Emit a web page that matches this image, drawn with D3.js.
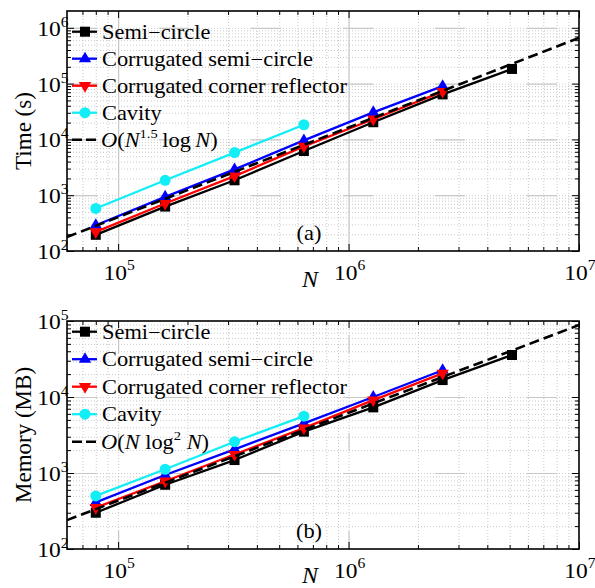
<!DOCTYPE html>
<html><head><meta charset="utf-8">
<script src="https://cdn.jsdelivr.net/npm/d3@7"></script>
<style>
body{margin:0;background:#fff}
svg{display:block}
text{font-family:"Liberation Serif","Times New Roman",serif;fill:#000}
</style>
</head><body>
<svg id="c" width="595" height="588"></svg>
<script>
// ---------------- data ----------------
const N = [8e4, 1.6e5, 3.2e5, 6.4e5, 1.28e6, 2.56e6, 5.12e6];
const seriesNames = ["Semi\u2212circle", "Corrugated semi\u2212circle", "Corrugated corner reflector", "Cavity"];
const seriesColors = ["#000000", "#0000ff", "#ff0000", "#12eef6"];
const seriesMarkers = ["square", "up", "down", "circle"];

const timeSemi       = [195, 625, 1850, 6200, 20300, 64000, 183000];
const timeCorrSemi   = [290, 935, 2900, 9600, 30500, 90000];
const timeCorrCorner = [220, 710, 2200, 7500, 23000, 72000];
const timeCavity     = [578, 1850, 5800, 18300];
const timeRefN = [6e4, 1e7];
const timeRef  = [178, 660000];

const memSemi       = [300, 700, 1480, 3500, 7300, 16700, 35700];
const memCorrSemi   = [410, 940, 2050, 4500, 10000, 22500];
const memCorrCorner = [350, 780, 1750, 3900, 9100, 20500];
const memCavity     = [500, 1120, 2580, 5600];
const memRefN = [6e4, 1e7];
const memRef  = [240, 88500];

const xDomain = [6e4, 1e7];
const xTickExp = [5, 6, 7];
const timeDomain = [1e2, 2e6];
const timeTickExp = [2, 3, 4, 5, 6];
const memDomain = [1e2, 1e5];
const memTickExp = [2, 3, 4, 5];

// ---------------- drawing ----------------
const svg = d3.select("#c");
const L = 67, R = 579;
const SX = 1.12;
const x = d3.scaleLog().domain(xDomain).range([L, R]);

function minorVals(lo, hi) {
  const out = [];
  for (let e = Math.floor(Math.log10(lo)); e <= Math.ceil(Math.log10(hi)); e++)
    for (let k = 2; k <= 9; k++) { const v = k * Math.pow(10, e); if (v > lo * 1.0001 && v < hi * 0.9999) out.push(v); }
  return out;
}
function majorVals(lo, hi) {
  const out = [];
  for (let e = Math.ceil(Math.log10(lo) - 1e-9); e <= Math.floor(Math.log10(hi) + 1e-9); e++) out.push(Math.pow(10, e));
  return out;
}
function markerPath(type) {
  if (type === "square") return "M-5,-5H5V5H-5Z";
  if (type === "up") return "M0,-7L6.2,3.6L-6.2,3.6Z";
  if (type === "down") return "M0,7L6.2,-3.6L-6.2,-3.6Z";
  return d3.symbol(d3.symbolCircle, 95)();
}
function sText(g, tx, ty, anchor, size) {
  return g.append("text")
    .attr("transform", `translate(${tx},${ty}) scale(${SX},1)`)
    .attr("text-anchor", anchor)
    .attr("font-size", size);
}

function drawPanel(cfg) {
  const y = d3.scaleLog().domain(cfg.yDomain).range([cfg.bottom, cfg.top]);
  const g = svg.append("g");
  const H = cfg.bottom - cfg.top, W = R - L;

  // minor grid (dotted)
  const mx = minorVals(...xDomain), my = minorVals(...cfg.yDomain);
  const Mx = majorVals(...xDomain).filter(v => x(v) > L + 1 && x(v) < R - 1);
  const My = majorVals(...cfg.yDomain).filter(v => y(v) > cfg.top + 1 && y(v) < cfg.bottom - 1);
  const grid = g.append("g");
  grid.append("g").attr("transform", `translate(0,${cfg.bottom})`)
    .call(d3.axisBottom(x).tickValues(mx.concat(Mx)).tickSize(-H).tickFormat(""))
    .call(s => { s.select(".domain").remove(); s.selectAll("line").attr("stroke", "#bdbdbd").attr("stroke-width", 0.8).attr("stroke-dasharray", "1,2"); });
  grid.append("g").attr("transform", `translate(${L},0)`)
    .call(d3.axisLeft(y).tickValues(my.concat(My)).tickSize(-W).tickFormat(""))
    .call(s => { s.select(".domain").remove(); s.selectAll("line").attr("stroke", "#bdbdbd").attr("stroke-width", 0.8).attr("stroke-dasharray", "1,2"); });
  // major grid (long dashes)
  grid.append("g").attr("transform", `translate(0,${cfg.bottom})`)
    .call(d3.axisBottom(x).tickValues(Mx).tickSize(-H).tickFormat(""))
    .call(s => { s.select(".domain").remove(); s.selectAll("line").attr("stroke", "#c8c8c8").attr("stroke-width", 1.2).attr("stroke-dasharray", cfg.vDash); });
  grid.append("g").attr("transform", `translate(${L},0)`)
    .call(d3.axisLeft(y).tickValues(My).tickSize(-W).tickFormat(""))
    .call(s => { s.select(".domain").remove(); s.selectAll("line").attr("stroke", "#c8c8c8").attr("stroke-width", 1.2).attr("stroke-dasharray", "30,62"); });

  // data lines
  const line = d3.line().x(d => x(d[0])).y(d => y(d[1]));
  cfg.series.forEach((vals, i) => {
    const pts = vals.map((v, j) => [N[j], v]);
    g.append("path").datum(pts).attr("d", line).attr("fill", "none")
      .attr("stroke", seriesColors[i]).attr("stroke-width", 2.3).attr("stroke-linejoin", "round");
    g.selectAll(null).data(pts).enter().append("path")
      .attr("d", markerPath(seriesMarkers[i]))
      .attr("transform", d => `translate(${x(d[0])},${y(d[1])})`)
      .attr("fill", seriesColors[i]);
  });
  // reference dashed line
  g.append("path").datum(cfg.refN.map((n, j) => [n, cfg.ref[j]])).attr("d", line)
    .attr("fill", "none").attr("stroke", "#000").attr("stroke-width", 2.6).attr("stroke-dasharray", "10,5");

  // ticks (inward) on all four sides
  const tick = (axis, tr, vals, size) => g.append("g").attr("transform", tr)
    .call(axis.tickValues(vals).tickSize(-size).tickFormat(""))
    .call(s => { s.select(".domain").remove(); s.selectAll("line").attr("stroke", "#000").attr("stroke-width", 1); });
  const MxAll = majorVals(...xDomain), MyAll = majorVals(...cfg.yDomain);
  tick(d3.axisBottom(x), `translate(0,${cfg.bottom})`, MxAll, 7);
  tick(d3.axisBottom(x), `translate(0,${cfg.bottom})`, mx, 4);
  tick(d3.axisTop(x), `translate(0,${cfg.top})`, MxAll, 7);
  tick(d3.axisTop(x), `translate(0,${cfg.top})`, mx, 4);
  tick(d3.axisLeft(y), `translate(${L},0)`, MyAll, 7);
  tick(d3.axisLeft(y), `translate(${L},0)`, my, 4);
  tick(d3.axisRight(y), `translate(${R},0)`, MyAll, 7);
  tick(d3.axisRight(y), `translate(${R},0)`, my, 4);

  // frame
  g.append("rect").attr("x", L).attr("y", cfg.top).attr("width", W).attr("height", H)
    .attr("fill", "none").attr("stroke", "#000").attr("stroke-width", 1.6);

  // y tick labels
  cfg.yTickExp.forEach(e => {
    const t = sText(g, 68.5, y(Math.pow(10, e)) + 8, "end", 21);
    t.append("tspan").text("10");
    t.append("tspan").attr("font-size", 14).attr("dy", -9).text(e);
  });
  // x tick labels
  xTickExp.forEach(e => {
    const t = sText(g, x(Math.pow(10, e)) + 1, cfg.bottom + 29, "middle", 21);
    t.append("tspan").text("10");
    t.append("tspan").attr("font-size", 14).attr("dy", -10).text(e);
  });
  // axis labels
  g.append("text").attr("x", 310).attr("y", cfg.nBase).attr("text-anchor", "middle")
    .attr("font-size", 24).attr("font-style", "italic").text("N");
  g.append("text").attr("transform", `translate(31,${(cfg.top + cfg.bottom) / 2}) rotate(-90)`)
    .attr("text-anchor", "middle").attr("font-size", 23).text(cfg.ylabel);
  // panel tag
  sText(g, 309, cfg.bottom - 11, "middle", 20).text(cfg.tag);

  // legend
  seriesNames.forEach((name, i) => {
    const ry = cfg.legTop + cfg.legStep * i;
    g.append("line").attr("x1", 72).attr("x2", 97).attr("y1", ry).attr("y2", ry)
      .attr("stroke", seriesColors[i]).attr("stroke-width", 2.3);
    g.append("path").attr("d", markerPath(seriesMarkers[i])).attr("transform", `translate(85,${ry})`).attr("fill", seriesColors[i]);
    sText(g, 102, ry + 7, "start", 20).text(name);
  });
  const ry = cfg.legTop + cfg.legStep * 4;
  g.append("line").attr("x1", 72).attr("x2", 97).attr("y1", ry).attr("y2", ry)
    .attr("stroke", "#000").attr("stroke-width", 2.6).attr("stroke-dasharray", "10,4");
  cfg.refLabel(sText(g, 101, ry + 7, "start", 20));
}

drawPanel({
  yDomain: timeDomain, top: 11, bottom: 251, yTickExp: timeTickExp,
  series: [timeSemi, timeCorrSemi, timeCorrCorner, timeCavity],
  refN: timeRefN, ref: timeRef, ylabel: "Time (s)", tag: "(a)",
  legTop: 31.7, legStep: 27, vDash: "none", nBase: 287,
  refLabel: t => {
    t.append("tspan").attr("font-style", "italic").text("O");
    t.append("tspan").text("(");
    t.append("tspan").attr("font-style", "italic").text("N");
    t.append("tspan").attr("font-size", 13).attr("dy", -9).text("1.5");
    t.append("tspan").attr("dy", 9).text("\u2009log\u2009");
    t.append("tspan").attr("font-style", "italic").text("N");
    t.append("tspan").text(")");
  }
});
drawPanel({
  yDomain: memDomain, top: 321, bottom: 549, yTickExp: memTickExp,
  series: [memSemi, memCorrSemi, memCorrCorner, memCavity],
  refN: memRefN, ref: memRef, ylabel: "Memory (MB)", tag: "(b)",
  legTop: 331.7, legStep: 27.5, vDash: "18,80", nBase: 583,
  refLabel: t => {
    t.append("tspan").attr("font-style", "italic").text("O");
    t.append("tspan").text("(");
    t.append("tspan").attr("font-style", "italic").text("N");
    t.append("tspan").text(" log");
    t.append("tspan").attr("font-size", 13).attr("dy", -9).text("2");
    t.append("tspan").attr("dy", 9).text(" ");
    t.append("tspan").attr("font-style", "italic").text("N");
    t.append("tspan").text(")");
  }
});
</script>
</body></html>
